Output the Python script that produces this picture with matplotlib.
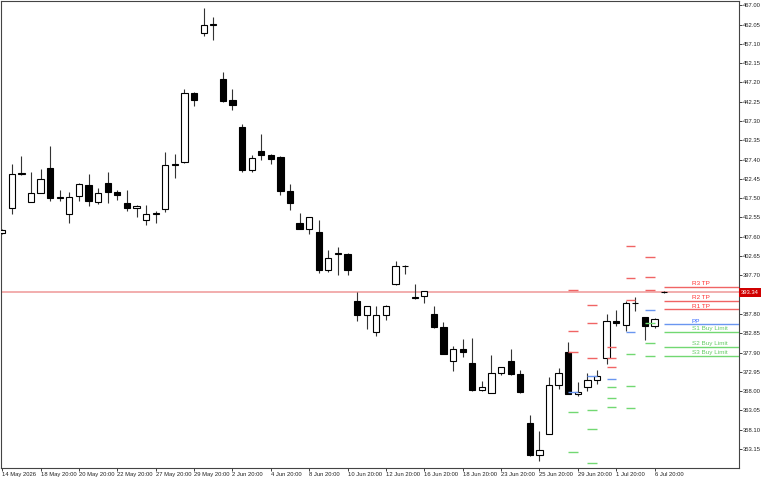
import matplotlib.pyplot as plt
from matplotlib.patches import Rectangle

plt.rcParams['font.family'] = ['Liberation Sans', 'DejaVu Sans']

# candle data, one entry per 12h bar
opens = [408.5, 415.0, 423.6, 416.5, 418.9, 425.3, 417.5, 413.5, 418.0, 421.0,
         416.5, 421.5, 419.1, 416.2, 415.1, 411.8, 413.4, 414.8, 425.9, 426.8,
         444.6, 459.8, 461.9, 448.0, 442.6, 435.8, 424.8, 429.7, 428.7, 428.1,
         419.4, 411.2, 409.7, 408.8, 399.1, 403.2, 403.1, 391.0, 387.4, 383.2,
         387.5, 395.6, 400.0, 391.9, 392.3, 387.7, 384.4, 375.6, 378.9, 375.3,
         368.3, 367.5, 372.6, 375.8, 372.5, 359.7, 351.6, 357.1, 369.5, 378.1,
         367.2, 369.1, 370.9, 376.6, 386.0, 384.9, 390.5, 386.9, 384.6, 393.5]
highs = [409.6, 426.2, 428.2, 424.1, 424.9, 430.8, 419.7, 419.1, 421.3, 423.6,
         420.1, 424.2, 419.5, 419.7, 415.8, 415.8, 414.1, 429.4, 428.9, 445.4,
         444.7, 466.2, 464.1, 449.8, 445.4, 436.5, 428.5, 433.9, 428.95, 428.4,
         421.2, 413.8, 412.8, 411.8, 404.3, 404.9, 403.5, 393.4, 389.8, 389.8,
         390.0, 401.5, 400.3, 395.5, 393.8, 389.9, 385.8, 379.6, 381.4, 381.5,
         370.5, 377.3, 374.3, 378.7, 373.5, 361.9, 357.8, 371.5, 373.9, 380.5,
         370.3, 372.6, 373.4, 387.8, 388.8, 391.0, 392.2, 387.0, 386.8, 393.6]
lows = [408.3, 413.5, 423.4, 416.4, 418.8, 416.9, 416.9, 411.2, 416.9, 415.5,
        415.9, 416.2, 417.1, 414.1, 412.8, 410.7, 411.1, 413.9, 422.7, 426.5,
        441.1, 459.1, 458.1, 442.1, 440.2, 424.1, 424.2, 427.2, 426.4, 418.4,
        414.4, 409.6, 408.4, 398.4, 398.5, 397.7, 397.9, 386.1, 383.9, 382.2,
        386.3, 395.1, 398.1, 391.7, 390.5, 384.3, 377.4, 373.1, 376.8, 367.9,
        368.1, 367.5, 372.1, 372.1, 367.6, 351.3, 350.1, 357.1, 368.5, 367.2,
        366.8, 368.1, 369.8, 375.0, 384.6, 383.5, 388.5, 381.1, 384.1, 393.1]
closes = [409.4, 423.8, 423.9, 418.9, 422.3, 417.5, 417.7, 417.8, 421.2, 416.7,
          418.9, 419.1, 418.4, 415.1, 415.6, 413.4, 413.6, 425.9, 426.2, 444.6,
          442.7, 461.85, 462.1, 442.5, 441.5, 424.7, 427.7, 428.7, 427.6, 419.3,
          416.3, 409.7, 412.7, 399.2, 402.2, 403.4, 399.0, 387.4, 389.8, 387.5,
          389.9, 400.2, 400.2, 392.2, 393.6, 384.4, 377.5, 378.8, 378.0, 368.3,
          369.0, 372.6, 374.2, 372.5, 367.7, 351.6, 352.8, 369.5, 372.6, 367.2,
          367.7, 370.9, 371.9, 386.1, 385.4, 390.6, 390.7, 384.6, 386.5, 393.34]

xtick_labels = ["14 May 2026", "18 May 20:00", "20 May 20:00", "22 May 20:00",
                "27 May 20:00", "29 May 20:00", "2 Jun 20:00", "4 Jun 20:00",
                "8 Jun 20:00", "10 Jun 20:00", "12 Jun 20:00", "16 Jun 20:00",
                "18 Jun 20:00", "23 Jun 20:00", "25 Jun 20:00", "29 Jun 20:00",
                "1 Jul 20:00", "6 Jul 20:00"]
ytick_values = [467.00, 462.05, 457.10, 452.15, 447.20, 442.25, 437.30, 432.35,
                427.40, 422.45, 417.50, 412.55, 407.60, 402.65, 397.70, 392.75,
                387.80, 382.85, 377.90, 372.95, 368.00, 363.05, 358.10, 353.15]

current_price = 393.34

# daily pivot levels (bar where each set starts)
pivot_start = [59, 61, 63, 65, 67, 69]
r3 = [393.87, 390.09, 379.32, 405.16, 402.41, 394.71]
r2 = [383.42, 385.40, 376.42, 397.02, 397.36, 391.04]
r1 = [378.11, 376.57, 374.18, 391.30, 393.87, 388.94]
pp = [367.77, 371.80, 371.18, 383.17, 388.89, 385.09]
s1 = [362.56, 363.07, 368.98, 377.44, 385.55, 383.09]
s2 = [352.30, 358.20, 366.15, 369.31, 380.42, 379.24]
s3 = [346.99, 349.63, 363.92, 363.59, 377.01, 377.06]
level_names = ["R3 TP", "R2 TP", "R1 TP", "PP", "S1 Buy Limit", "S2 Buy Limit", "S3 Buy Limit"]

red_line, blue_line, green_line = '#f06464', '#6a96f0', '#72d872'
level_colors = [red_line, red_line, red_line, blue_line, green_line, green_line, green_line]
text_colors = ['#ff3030', '#ff3030', '#ff3030', '#3366ff', '#66cc66', '#66cc66', '#66cc66']

fig = plt.figure(figsize=(7.68, 4.8), dpi=100)
ax = fig.add_axes([0.001, 0.0256, 0.9612, 0.9723])
x_max = 76.8
ax.set_xlim(-0.15, x_max)
ax.set_ylim(348.34, 468.10)

# current price line
ax.axhline(current_price, color='#f0a0a0', lw=1.2, zorder=1)

body_w = 0.65
for i, (o, h, l, c) in enumerate(zip(opens, highs, lows, closes)):
    ax.vlines(i, l, h, color='#333333', lw=0.8, zorder=2)
    bull = c >= o
    bottom = min(o, c)
    height = max(abs(c - o), 0.05)
    ax.add_patch(Rectangle((i - body_w / 2, bottom), body_w, height,
                           facecolor='white' if bull else 'black',
                           edgecolor='black', lw=0.8, zorder=3))

levels = [r3, r2, r1, pp, s1, s2, s3]
for k, start in enumerate(pivot_start):
    end = start + 1 if k < len(pivot_start) - 1 else x_max
    for lv, col in zip(levels, level_colors):
        ax.hlines(lv[k], start, end, color=col, lw=1.0, zorder=4)

for lv, name, tcol in zip(levels, level_names, text_colors):
    ax.annotate(name, (71.9, lv[-1]), xytext=(0, 0.6), textcoords='offset points',
                fontsize=4.6, color=tcol, ha='left', va='bottom', zorder=5)

# axes styling
for s in ax.spines.values():
    s.set_color('#444444')
    s.set_linewidth(0.8)
ax.yaxis.tick_right()
ax.set_yticks(ytick_values)
# the price tag covers the scale label next to the current price
ax.set_yticklabels(["" if abs(v - current_price) < 1.5 else f"{v:.2f}" for v in ytick_values])
ax.tick_params(axis='y', direction='out', length=2, width=0.6, pad=1,
               labelsize=4.2, colors='#222222')
ax.set_xticks(range(0, 4 * len(xtick_labels), 4))
ax.set_xticklabels(xtick_labels)
ax.tick_params(axis='x', direction='out', length=2.2, width=0.6, pad=0.8,
               labelsize=4.2, colors='#222222')
for lbl in ax.get_xticklabels():
    lbl.set_horizontalalignment('left')

# current price tag on the right scale
ax.text(1.003, current_price, f"{current_price:.2f}", transform=ax.get_yaxis_transform(),
        fontsize=4.2, color='white', ha='left', va='center', clip_on=False, zorder=10,
        bbox=dict(boxstyle='square,pad=0.35', facecolor='#d00000', edgecolor='none'))

fig.savefig("out.png", dpi=100)
